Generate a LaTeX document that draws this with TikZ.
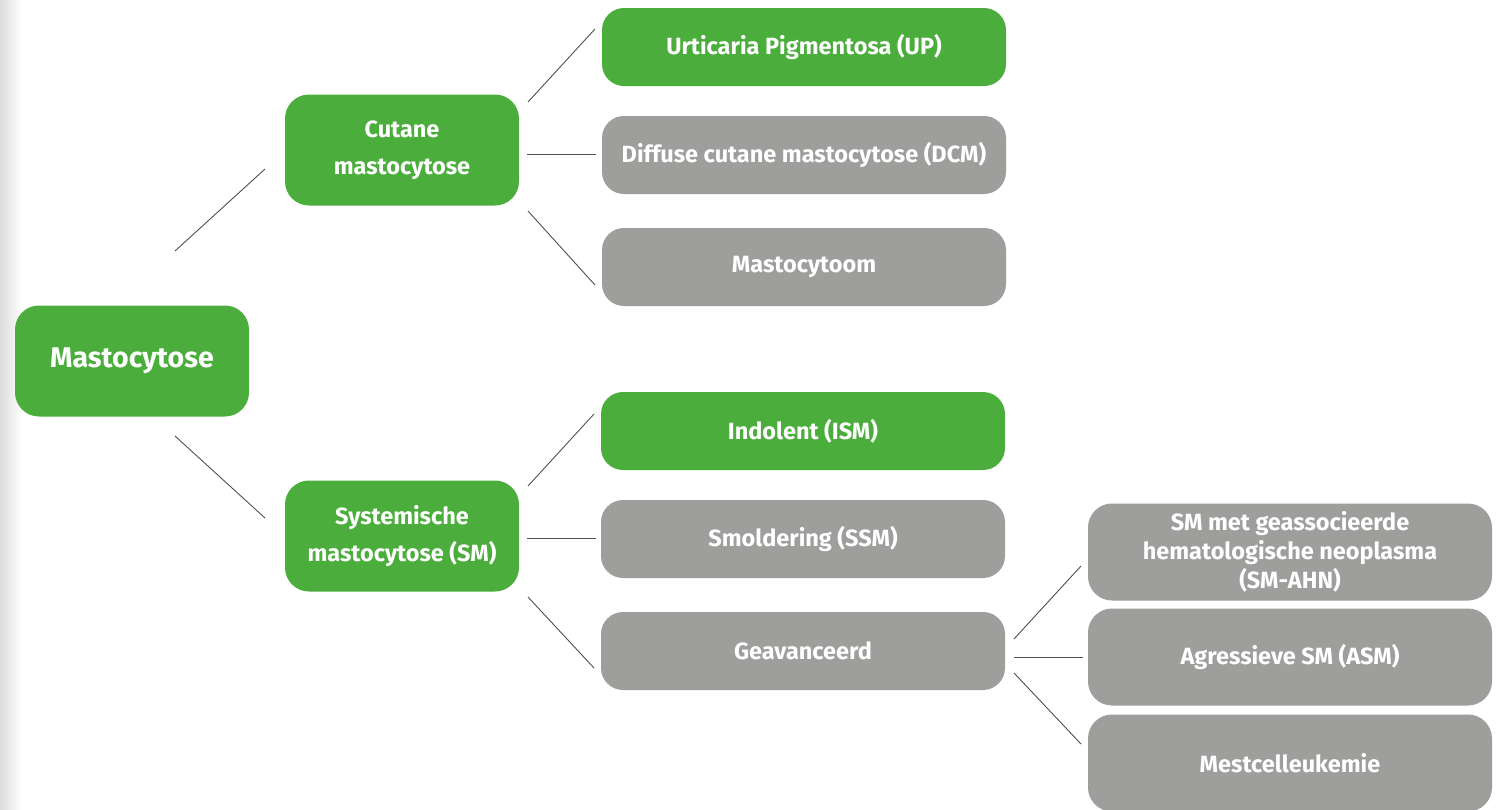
\documentclass[tikz,border=0pt]{standalone}
\usepackage{fontspec}
\setmainfont{Fira Sans}
\definecolor{mgreen}{RGB}{75,174,60}
\definecolor{mgray}{RGB}{158,158,156}
\definecolor{mline}{RGB}{80,80,80}
\begin{document}
\begin{tikzpicture}[x=1pt,y=-1pt,
  box/.style={rounded corners=24pt,text=white,align=center,inner sep=0pt,
    font=\fontsize{23.5}{29}\selectfont\bfseries},
  gbox/.style={box,fill=mgreen},
  ybox/.style={box,fill=mgray},
  mid/.style={minimum width=234pt,minimum height=111pt,font=\fontsize{23.5}{37}\selectfont\bfseries},
  leaf/.style={minimum width=404pt,minimum height=78pt,rounded corners=22pt},
  leaf2/.style={minimum width=404pt,minimum height=97pt,rounded corners=24pt},
  conn/.style={draw=mline,line width=0.9pt}]
\useasboundingbox (0,0) rectangle (1497,809);
\clip (0,0) rectangle (1497,809);
\fill[white] (0,0) rectangle (1497,809);
\shade[left color=black!14,right color=white] (0,0) rectangle (22,809);

\node[gbox,mid,font=\fontsize{28.5}{34}\selectfont\bfseries] (root) at (132,361) {Mastocytose};
\node[gbox,mid] (cm) at (402,150) {Cutane\\mastocytose};
\node[gbox,mid] (sm) at (402,536) {Systemische\\mastocytose (SM)};

\node[gbox,leaf] (up) at (804,47) {Urticaria Pigmentosa (UP)};
\node[ybox,leaf] (dcm) at (804,155) {Diffuse cutane mastocytose (DCM)};
\node[ybox,leaf] (mt) at (804,267) {Mastocytoom};
\node[gbox,leaf] (ism) at (803,431) {Indolent (ISM)};
\node[ybox,leaf] (ssm) at (803,539) {Smoldering (SSM)};
\node[ybox,leaf] (gv) at (803,651) {Geavanceerd};

\node[ybox,leaf2] (ahn) at (1290,552) {SM met geassocieerde\\hematologische neoplasma\\(SM-AHN)};
\node[ybox,leaf2] (asm) at (1290,657) {Agressieve SM (ASM)};
\node[ybox,leaf2] (ml) at (1290,763) {Mestcelleukemie};

% connector end points
\coordinate (r1) at (175,251); \coordinate (c1) at (265,169);
\coordinate (r2) at (175,436); \coordinate (s1) at (265,518);
\coordinate (c2) at (528,102); \coordinate (u1) at (595,29);
\coordinate (c3) at (527,154); \coordinate (d1) at (596,154);
\coordinate (c4) at (528,211); \coordinate (m1) at (595,285);
\coordinate (s2) at (528,486); \coordinate (i1) at (594,414);
\coordinate (s3) at (527,538); \coordinate (o1) at (596,538);
\coordinate (s4) at (528,597); \coordinate (g1) at (594,668);
\coordinate (g2) at (1014,639); \coordinate (a1) at (1081,566);
\coordinate (g3) at (1014,657); \coordinate (a2) at (1083,657);
\coordinate (g4) at (1014,673); \coordinate (a3) at (1081,744);

\draw[conn] (r1) -- (c1);
\draw[conn] (r2) -- (s1);
\draw[conn] (c2) -- (u1);
\draw[conn] (c3) -- (d1);
\draw[conn] (c4) -- (m1);
\draw[conn] (s2) -- (i1);
\draw[conn] (s3) -- (o1);
\draw[conn] (s4) -- (g1);
\draw[conn] (g2) -- (a1);
\draw[conn] (g3) -- (a2);
\draw[conn] (g4) -- (a3);
\end{tikzpicture}
\end{document}
